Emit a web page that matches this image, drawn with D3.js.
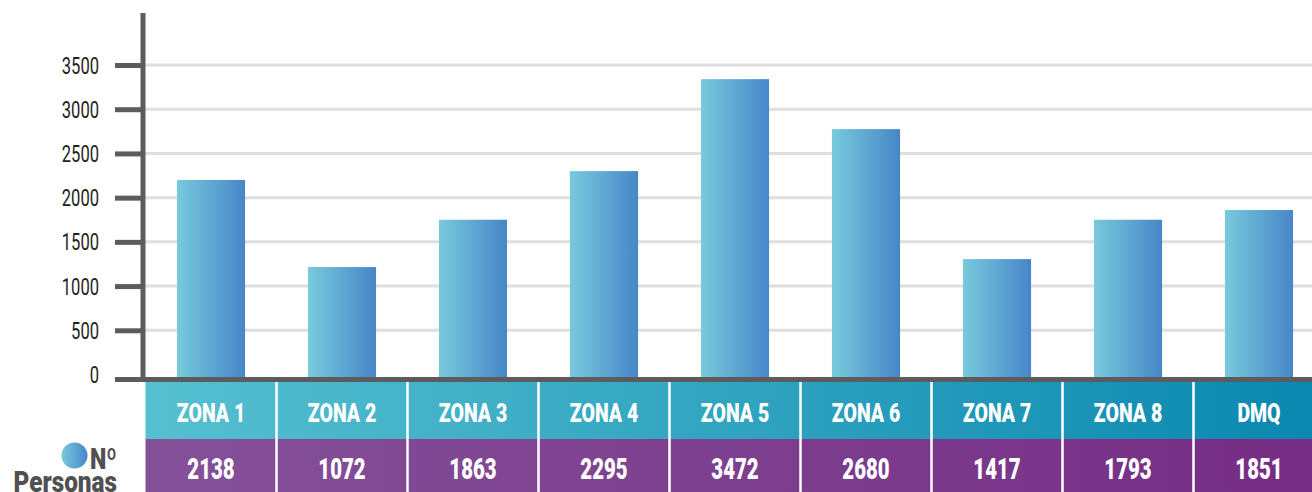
<!DOCTYPE html>
<html>
<head>
<meta charset="utf-8">
<script src="https://cdn.jsdelivr.net/npm/d3@7"></script>
<style>
  html, body { margin: 0; padding: 0; background: #fff; }
  svg { display: block; }
  text { font-family: Roboto, "DejaVu Sans Condensed", sans-serif; }
</style>
</head>
<body>
<svg id="chart"></svg>
<script>
// values
const zonas = ["ZONA 1", "ZONA 2", "ZONA 3", "ZONA 4", "ZONA 5", "ZONA 6", "ZONA 7", "ZONA 8", "DMQ"];
const barValues = [2200, 1215, 1750, 2300, 3340, 2775, 1305, 1750, 1860];
const personas = [2138, 1072, 1863, 2295, 3472, 2680, 1417, 1793, 1851];
const yTicks = [0, 500, 1000, 1500, 2000, 2500, 3000, 3500];

const width = 1312;
const height = 492;
const axisX = 143;
const baseY = 379.5;
const headTop = 382, headBottom = 439;

const svg = d3.select("#chart")
  .attr("width", width)
  .attr("height", height);

const defs = svg.append("defs");

const barGrad = defs.append("linearGradient").attr("id", "barGrad")
  .attr("x1", "0%").attr("x2", "100%").attr("y1", "0%").attr("y2", "0%");
barGrad.append("stop").attr("offset", "0%").attr("stop-color", "#78cadc");
barGrad.append("stop").attr("offset", "100%").attr("stop-color", "#4786c8");

const headGrad = defs.append("linearGradient").attr("id", "headGrad")
  .attr("gradientUnits", "userSpaceOnUse")
  .attr("x1", axisX).attr("x2", width).attr("y1", 0).attr("y2", 0);
headGrad.append("stop").attr("offset", "0%").attr("stop-color", "#56c0d0");
headGrad.append("stop").attr("offset", "100%").attr("stop-color", "#0b88b0");

const rowGrad = defs.append("linearGradient").attr("id", "rowGrad")
  .attr("gradientUnits", "userSpaceOnUse")
  .attr("x1", axisX).attr("x2", width).attr("y1", 0).attr("y2", 0);
rowGrad.append("stop").attr("offset", "0%").attr("stop-color", "#845199");
rowGrad.append("stop").attr("offset", "100%").attr("stop-color", "#762d85");

const x = d3.scaleBand()
  .domain(zonas)
  .range([145.5, 1324.5])
  .paddingInner(0.48)
  .paddingOuter(0.24);

const y = d3.scaleLinear()
  .domain([0, 3500])
  .range([374.5, 65]);

const step = x.step();
const half = (step - x.bandwidth()) / 2;

// condensed look: squeeze text horizontally
const squeeze = (tx, ty, s) => `translate(${tx},${ty}) scale(${s},1)`;

// grid
svg.append("g")
  .selectAll("line")
  .data(yTicks.filter(d => d > 0))
  .join("line")
    .attr("x1", axisX)
    .attr("x2", width)
    .attr("y1", d => y(d))
    .attr("y2", d => y(d))
    .attr("stroke", "#dfdfe0")
    .attr("stroke-width", 3);

// bars
svg.append("g")
  .selectAll("rect")
  .data(barValues)
  .join("rect")
    .attr("x", (d, i) => x(zonas[i]))
    .attr("y", d => y(d))
    .attr("width", x.bandwidth())
    .attr("height", d => baseY - y(d))
    .attr("fill", "url(#barGrad)");

// y axis ticks + labels
const yAxis = svg.append("g")
  .attr("transform", `translate(${axisX},0)`)
  .call(d3.axisLeft(y).tickValues(yTicks).tickSize(28).tickPadding(16).tickFormat(d3.format("d")));
yAxis.select(".domain").remove();
yAxis.selectAll(".tick line")
  .attr("stroke", "#5c5c5e")
  .attr("stroke-width", 5)
  .attr("display", d => d === 0 ? "none" : null);
yAxis.selectAll(".tick text")
  .attr("fill", "#231f20")
  .attr("font-size", 23)
  .attr("font-family", "Roboto, sans-serif")
  .attr("x", 0)
  .attr("dy", null)
  .attr("dominant-baseline", "central")
  .attr("transform", squeeze(-44, 0, 0.72));

// axis lines
svg.append("line")
  .attr("x1", axisX).attr("x2", axisX)
  .attr("y1", 13).attr("y2", headTop)
  .attr("stroke", "#5c5c5e").attr("stroke-width", 5);
svg.append("line")
  .attr("x1", 115).attr("x2", width)
  .attr("y1", baseY).attr("y2", baseY)
  .attr("stroke", "#5c5c5e").attr("stroke-width", 5);

// table
const cellX0 = (d) => Math.max(axisX - 2.5, x(d) - half);
const cellX1 = (d) => x(d) - half + step;

const table = svg.append("g");
table.selectAll("rect.head")
  .data(zonas)
  .join("rect")
    .attr("class", "head")
    .attr("x", d => cellX0(d))
    .attr("y", headTop)
    .attr("width", d => cellX1(d) - cellX0(d))
    .attr("height", headBottom - headTop)
    .attr("fill", "url(#headGrad)");
table.selectAll("rect.row")
  .data(zonas)
  .join("rect")
    .attr("class", "row")
    .attr("x", d => cellX0(d))
    .attr("y", headBottom)
    .attr("width", d => cellX1(d) - cellX0(d))
    .attr("height", height - headBottom)
    .attr("fill", "url(#rowGrad)");

table.selectAll("line.sep")
  .data(zonas.slice(1))
  .join("line")
    .attr("class", "sep")
    .attr("x1", d => x(d) - half)
    .attr("x2", d => x(d) - half)
    .attr("y1", headTop)
    .attr("y2", height)
    .attr("stroke", "#fff")
    .attr("stroke-width", 2.5);

table.selectAll("text.zona")
  .data(zonas)
  .join("text")
    .attr("class", "zona")
    .attr("transform", d => squeeze(x(d) + x.bandwidth() / 2, 421.5, 0.78))
    .attr("text-anchor", "middle")
    .attr("fill", "#fff")
    .attr("font-weight", 900)
    .attr("font-size", 25)
    .text(d => d);

table.selectAll("text.val")
  .data(personas)
  .join("text")
    .attr("class", "val")
    .attr("transform", (d, i) => squeeze(x(zonas[i]) + x.bandwidth() / 2, 478.5, 0.68))
    .attr("text-anchor", "middle")
    .attr("fill", "#fff")
    .attr("font-weight", 900)
    .attr("font-size", 30)
    .text(d => d);

// legend
const legend = svg.append("g");
legend.append("circle")
  .attr("cx", 74.5).attr("cy", 455.5).attr("r", 13)
  .attr("fill", "url(#barGrad)");
legend.append("text")
  .attr("transform", squeeze(117, 468.5, 0.8))
  .attr("text-anchor", "end")
  .attr("fill", "#505052")
  .attr("font-weight", 900)
  .attr("font-size", 29)
  .text("Nº");
legend.append("text")
  .attr("transform", squeeze(117, 491.5, 0.84))
  .attr("text-anchor", "end")
  .attr("fill", "#505052")
  .attr("font-weight", 900)
  .attr("font-size", 29)
  .text("Personas");
</script>
</body>
</html>
